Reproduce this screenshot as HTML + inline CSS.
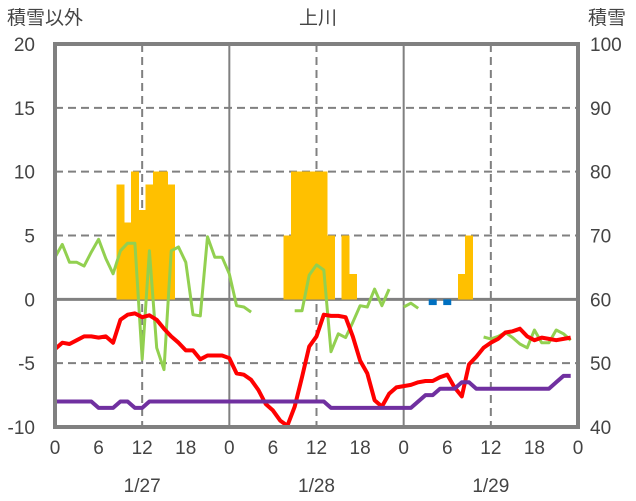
<!DOCTYPE html>
<html><head><meta charset="utf-8"><style>
html,body{margin:0;padding:0;background:#fff;}
svg{display:block;font-family:"Liberation Sans","Noto Sans CJK JP",sans-serif;}
</style></head><body>
<svg id="chart" width="636" height="501" viewBox="0 0 636 501">
<text x="7" y="24" font-size="19" fill="#444">積雪以外</text>
<text x="318" y="24" font-size="19" fill="#444" text-anchor="middle">上川</text>
<text x="588" y="24" font-size="19" fill="#444">積雪</text>
<g id="grid"></g><g id="bars"></g><g id="lines"></g><g id="axes"></g>
</svg>
<script>
const hours=[];for(let i=0;i<72;i++)hours.push(i);
const leftTicks=[20,15,10,5,0,-5,-10];
const rightTicks=[100,90,80,70,60,50,40];
const xTickLabels=["0","6","12","18","0","6","12","18","0","6","12","18","0"];
const dateLabels=["1/27","1/28","1/29"];
const barHours=[9,10,11,12,13,14,15,16,32,33,34,35,36,37,38,40,41,56,57];
const barValues=[9,6,10,7,9,10,10,9,5,10,10,10,10,10,5,5,2,2,5];
const negBarHours=[52,54];
const negBarValues=[-0.45,-0.45];
const tempValues=[-3.9,-3.4,-3.5,-3.2,-2.9,-2.9,-3.0,-2.9,-3.4,-1.6,-1.2,-1.1,-1.4,-1.25,-1.6,-2.3,-2.9,-3.4,-4.0,-4.0,-4.7,-4.4,-4.4,-4.4,
-4.6,-5.8,-5.9,-6.3,-7.1,-8.2,-8.7,-9.5,-9.9,-8.4,-6.1,-3.7,-2.9,-1.2,-1.3,-1.3,-1.4,-2.9,-4.8,-5.8,-7.9,-8.4,-7.4,-6.9,
-6.8,-6.7,-6.5,-6.4,-6.4,-6.1,-5.9,-6.9,-7.6,-5.1,-4.5,-3.8,-3.4,-3.1,-2.6,-2.5,-2.3,-2.9,-3.2,-3.0,-3.1,-3.2,-3.1,-3.0];
const greenValues=[3.3,4.3,2.9,2.9,2.6,3.7,4.7,3.2,2.0,3.8,4.4,4.4,-4.7,3.8,-3.8,-5.5,3.8,4.1,2.9,-1.2,-1.3,4.9,3.3,3.3,
2.0,-0.5,-0.6,-1.0,null,null,null,null,null,-0.9,-0.9,1.9,2.7,2.3,-4.1,-2.7,-3.0,-1.8,-0.5,-0.6,0.8,-0.5,0.8,null,
-0.6,-0.3,-0.7,null,null,null,null,null,null,null,null,-2.95,-3.1,-2.9,-2.6,-3.0,-3.5,-3.8,-2.4,-3.4,-3.4,-2.4,-2.7,-3.2];
const snowDepthValues=[44,44,44,44,44,44,43,43,43,44,44,43,43,44,44,44,44,44,44,44,44,44,44,44,
44,44,44,44,44,44,44,44,44,44,44,44,44,44,43,43,43,43,43,43,43,43,43,43,
43,43,44,45,45,46,46,46,47,47,46,46,46,46,46,46,46,46,46,46,46,47,48,48];
const L=55,R=578,T=44,B=427;
const xS=h=>L+h*(R-L)/72;
const yL=v=>T+(20-v)*(B-T)/30;
const yR=v=>T+(100-v)*(B-T)/60;
const NS="http://www.w3.org/2000/svg";
function mk(tag,attrs,parent){const e=document.createElementNS(NS,tag);for(const k in attrs)e.setAttribute(k,attrs[k]);document.getElementById(parent).appendChild(e);return e;}
leftTicks.forEach(v=>{if(v===20||v===-10)return;
 const e=mk("line",{x1:L,x2:R,y1:yL(v),y2:yL(v),stroke:"#808080","stroke-width":v===0?3:2,"stroke-dasharray":v===0?"none":"8,5"},"grid");
 
 });
[12,36,60].forEach(h=>{const e=mk("line",{x1:xS(h),x2:xS(h),y1:T,y2:B,stroke:"#808080","stroke-width":2,"stroke-dasharray":"8,5"},"grid");
 
 });
[24,48].forEach(h=>{const e=mk("line",{x1:xS(h),x2:xS(h),y1:T,y2:B,stroke:"#808080","stroke-width":2},"grid");
 
 });
const bw=(R-L)/72;
barHours.forEach((h,i)=>{const v=barValues[i];
 const e=mk("rect",{x:xS(h)-bw/2-0.3,y:yL(v),width:bw+0.6,height:yL(0)-yL(v),fill:"#FFC000","shape-rendering":"crispEdges"},"bars");
 
 });
negBarHours.forEach((h,i)=>{const v=negBarValues[i];
 const e=mk("rect",{x:xS(h)-4,y:yL(0),width:8,height:yL(v)-yL(0),fill:"#0070C0"},"bars");
 
 });
function pathFrom(vals,yf){let d="",pen=false;vals.forEach((v,i)=>{if(v===null){pen=false;return;}d+=(pen?"L":"M")+xS(hours[i]).toFixed(1)+","+yf(v).toFixed(1)+" ";pen=true;});return d;}
let e=mk("path",{d:pathFrom(greenValues,yL),fill:"none",stroke:"#92D050","stroke-width":3,"stroke-linejoin":"round"},"lines");


e=mk("path",{d:pathFrom(tempValues,yL),fill:"none",stroke:"#FF0000","stroke-width":4,"stroke-linejoin":"round"},"lines");


e=mk("path",{d:pathFrom(snowDepthValues,yR),fill:"none",stroke:"#7030A0","stroke-width":4,"stroke-linejoin":"round"},"lines");


e=mk("rect",{x:L,y:T,width:R-L,height:B-T,fill:"none",stroke:"#808080","stroke-width":4},"axes");


leftTicks.forEach(v=>{const t=mk("text",{x:35,y:yL(v)+7,"font-size":19,fill:"#444","text-anchor":"end"},"axes");t.textContent=v;
 
 });
rightTicks.forEach(v=>{const t=mk("text",{x:590,y:yR(v)+7,"font-size":19,fill:"#444"},"axes");t.textContent=v;
 
 });
xTickLabels.forEach((s,i)=>{const t=mk("text",{x:xS(i*6),y:454,"font-size":19,fill:"#444","text-anchor":"middle"},"axes");t.textContent=s;
 
 });
dateLabels.forEach((s,i)=>{const t=mk("text",{x:xS(12+24*i),y:492,"font-size":19,fill:"#444","text-anchor":"middle"},"axes");t.textContent=s;
 
 });
</script>
</body></html>
